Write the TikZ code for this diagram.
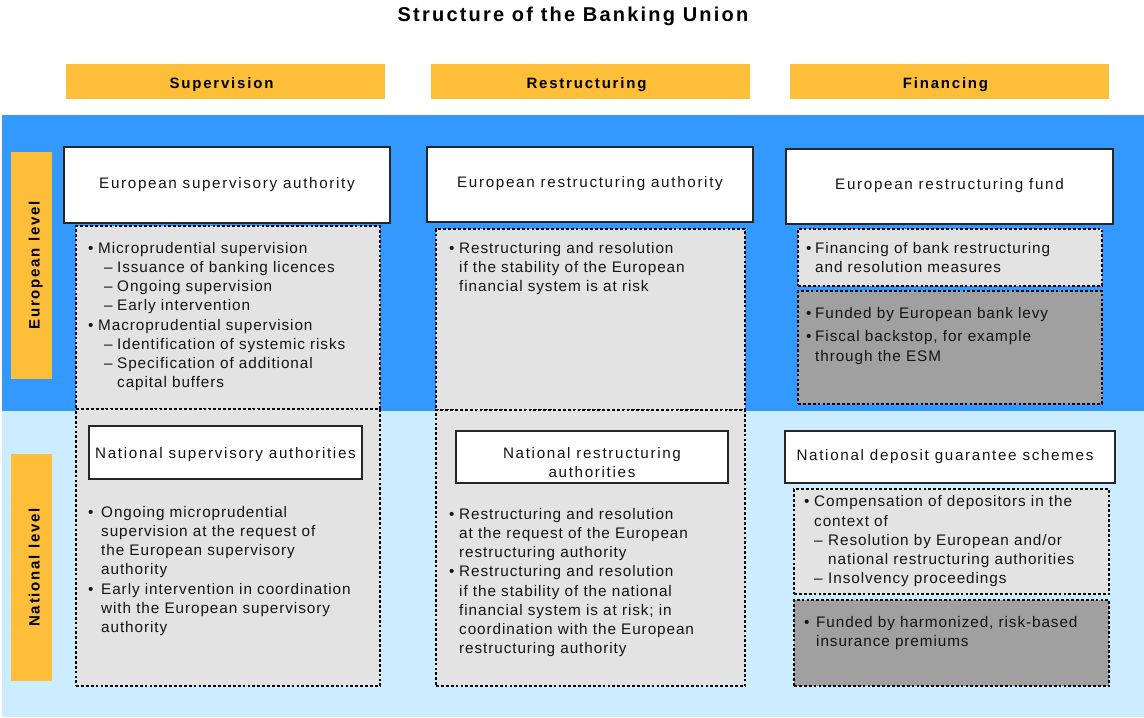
\documentclass[tikz,border=0pt]{standalone}
\usepackage{fontspec}
\setmainfont{Liberation Sans}
\newfontfamily\bodyf[LetterSpace=6]{Liberation Sans}
\newfontfamily\boxf[LetterSpace=11]{Liberation Sans}
\newfontfamily\headf[LetterSpace=12,BoldFont={Liberation Sans Bold}]{Liberation Sans Bold}
\newfontfamily\titlef[LetterSpace=11]{Liberation Sans Bold}
\definecolor{orng}{HTML}{FDBE3A}
\definecolor{bandblue}{HTML}{3399FF}
\definecolor{bandlight}{HTML}{CCECFF}
\definecolor{lgrey}{HTML}{E3E3E3}
\definecolor{dgrey}{HTML}{A0A0A0}
\definecolor{txtc}{HTML}{141414}
\newcommand{\bl}[1]{\makebox[#1][l]{•}}
\newcommand{\dl}[2]{\hspace*{#1}\makebox[#2][l]{–}}
\newcommand{\fs}{\rule{0pt}{14pt}}
\begin{document}
\begin{tikzpicture}[x=1pt,y=-1pt,
  orbar/.style={fill=orng, draw=none, inner sep=0pt, text=black},
  headtxt/.style={font=\headf\fontsize{15}{18}\selectfont, text height=14pt, text depth=0pt},
  wbox/.style={fill=white, draw=black!85, line width=1.3pt, inner sep=0pt, text=txtc,
    font=\boxf\fontsize{15.2}{19}\selectfont, align=center, text height=10pt, text depth=4pt},
  dotbox/.style={draw=black, line width=2.6pt, dash pattern=on 2.8pt off 2.1pt, inner sep=0pt},
  lgbox/.style={dotbox, fill=lgrey},
  dgbox/.style={dotbox, fill=dgrey},
  txt/.style={anchor=north west, inner sep=0pt, align=left, text=txtc,
    font=\bodyf\fontsize{15.3}{19.25}\selectfont},
  sidetxt/.style={font=\headf\fontsize{15}{18}\selectfont, text height=16pt, text depth=0pt}
]
\useasboundingbox (0,0) rectangle (1144,718);
\fill[white] (0,0) rectangle (1144,718);
% bands
\fill[bandblue] (2,115) rectangle (1144,411);
\fill[bandlight] (2,411) rectangle (1144,717);

% title
\node[anchor=base, inner sep=0pt, font=\titlef\fontsize{20}{22}\selectfont] (title) at (573,21) {Structure of the Banking Union};

% column headers
\node[orbar, headtxt, minimum width=319pt, minimum height=35pt] (hsup) at (225.5,81.5) {\hspace*{-8pt}Supervision};
\node[orbar, headtxt, minimum width=319pt, minimum height=35pt] (hres) at (590.5,81.5) {\hspace*{-8pt}Restructuring};
\node[orbar, headtxt, minimum width=319pt, minimum height=35pt] (hfin) at (949.5,81.5) {\hspace*{-8pt}Financing};

% side labels
\node[orbar, sidetxt, rotate=90, minimum width=227pt, minimum height=41pt] (leu) at (31.5,265.5) {European level};
\node[orbar, sidetxt, rotate=90, minimum width=227pt, minimum height=41pt] (lnat) at (31.5,567.5) {National level};

% dotted boxes
\node[lgbox, minimum width=304pt, minimum height=183pt] (c1top) at (228,317.5) {};
\node[lgbox, minimum width=304pt, minimum height=277pt] (c1bot) at (228,547.5) {};
\node[lgbox, minimum width=309pt, minimum height=181pt] (c2top) at (590.5,319.5) {};
\node[lgbox, minimum width=309pt, minimum height=276pt] (c2bot) at (590.5,548) {};
\node[lgbox, minimum width=304pt, minimum height=57pt] (c3a) at (950,257.5) {};
\node[dgbox, minimum width=304pt, minimum height=113pt] (c3b) at (950,347.5) {};
\node[lgbox, minimum width=315pt, minimum height=105pt] (c3c) at (951.5,541.5) {};
\node[dgbox, minimum width=315pt, minimum height=86pt] (c3d) at (951.5,643) {};

% white boxes
\node[wbox, minimum width=326pt, minimum height=76pt] (esa) at (227,185) {European supervisory authority};
\node[wbox, minimum width=326pt, minimum height=75pt] (era) at (590,184.5) {European restructuring authority};
\node[wbox, minimum width=327pt, minimum height=75pt] (erf) at (949.5,186.5) {European restructuring fund};
\node[wbox, minimum width=273pt, minimum height=53pt, text height=14pt, text depth=2.5pt] (nsa) at (225.5,452.5) {National supervisory authorities};
\node[wbox, minimum width=272pt, minimum height=52pt, text height=43pt, text depth=3pt] (nra) at (592,457) {National restructuring\\authorities};
\node[wbox, minimum width=330pt, minimum height=52pt, text height=11pt, text depth=4pt] (ndgs) at (950,457) {\hspace*{-10pt}National deposit guarantee schemes};

% text blocks
\node[txt] (t1) at (88,239) {\fs\bl{10pt}Microprudential supervision\\
\dl{16pt}{13pt}Issuance of banking licences\\
\dl{16pt}{13pt}Ongoing supervision\\
\dl{16pt}{13pt}Early intervention\\
\bl{10pt}Macroprudential supervision\\
\dl{16pt}{13pt}Identification of systemic risks\\
\dl{16pt}{13pt}Specification of additional\\
\hspace*{29pt}capital buffers};

\node[txt] (t2) at (88,503) {\fs\bl{13pt}Ongoing microprudential\\
\hspace*{13pt}supervision at the request of\\
\hspace*{13pt}the European supervisory\\
\hspace*{13pt}authority\\
\bl{13pt}Early intervention in coordination\\
\hspace*{13pt}with the European supervisory\\
\hspace*{13pt}authority};

\node[txt] (t3) at (449,239) {\fs\bl{10pt}Restructuring and resolution\\
\hspace*{10pt}if the stability of the European\\
\hspace*{10pt}financial system is at risk};

\node[txt] (t4) at (449,505) {\fs\bl{10pt}Restructuring and resolution\\
\hspace*{10pt}at the request of the European\\
\hspace*{10pt}restructuring authority\\
\bl{10pt}Restructuring and resolution\\
\hspace*{10pt}if the stability of the national\\
\hspace*{10pt}financial system is at risk; in\\
\hspace*{10pt}coordination with the European\\
\hspace*{10pt}restructuring authority};

\node[txt] (t5) at (806,239) {\fs\bl{9pt}Financing of bank restructuring\\
\hspace*{9pt}and resolution measures};

\node[txt] (t6) at (806,304) {\fs\bl{9pt}Funded by European bank levy\\[4.5pt]
\bl{9pt}Fiscal backstop, for example\\
\hspace*{9pt}through the ESM};

\node[txt, font=\bodyf\fontsize{15.3}{19.1}\selectfont] (t7) at (804,492.7) {\fs\bl{10pt}Compensation of depositors in the\\
\hspace*{10pt}context of\\
\dl{10pt}{14pt}Resolution by European and/or\\
\hspace*{24pt}national restructuring authorities\\
\dl{10pt}{14pt}Insolvency proceedings};

\node[txt, font=\bodyf\fontsize{15.3}{19}\selectfont] (t8) at (804,613.7) {\fs\bl{12pt}Funded by harmonized, risk-based\\
\hspace*{12pt}insurance premiums};
\end{tikzpicture}
\end{document}
